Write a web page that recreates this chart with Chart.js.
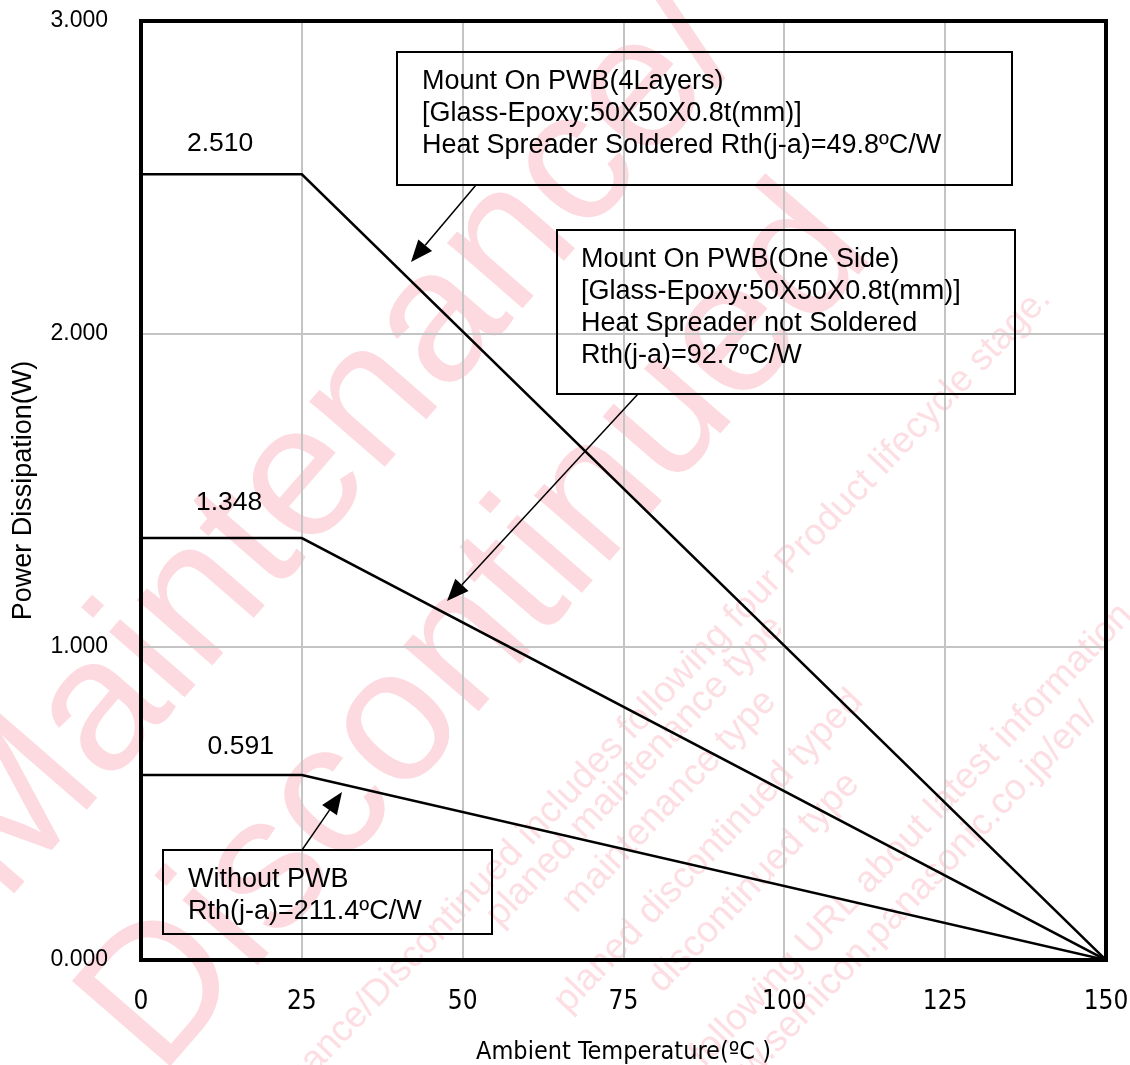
<!DOCTYPE html>
<html>
<head>
<meta charset="utf-8">
<script src="https://cdn.jsdelivr.net/npm/chart.js@4"></script>
<style>
  html, body { margin: 0; padding: 0; background: #fff; }
  #wrap { width: 1130px; height: 1065px; }
</style>
</head>
<body>
<div id="wrap"><canvas id="pdChart" width="1130" height="1065"></canvas></div>
<script>
// ambient temperature (degC) break points of the derating curves
const temps = [0, 25, 150];
// power dissipation (W) for each mounting condition
const pwb4Layers = [2.510, 2.510, 0];
const pwbOneSide = [1.348, 1.348, 0];
const withoutPwb = [0.591, 0.591, 0];
const xTicks = [0, 25, 50, 75, 100, 125, 150];
const yTicks = [0, 1, 2, 3];

const FONT = '"Liberation Sans", Arial, sans-serif';
const NARROW = '"Liberation Sans Narrow", "DejaVu Sans Condensed", "Liberation Sans", Arial, sans-serif';

// value labels above the flat part of each curve
const valueLabels = [
  { text: '2.510', x: 12.3, y: pwb4Layers[0], dy: -31 },
  { text: '1.348', x: 13.7, y: pwbOneSide[0], dy: -35 },
  { text: '0.591', x: 15.5, y: withoutPwb[0], dy: -28 }
];

// note boxes (pixel boxes) with their arrows
const notes = [
  { box: [397, 52, 615, 133], tx: 422, ty: 82,
    lines: ['Mount On PWB(4Layers)', '[Glass-Epoxy:50X50X0.8t(mm)]', 'Heat Spreader Soldered Rth(j-a)=49.8ºC/W'],
    arrow: [476, 185, 411, 262] },
  { box: [557, 230, 458, 164], tx: 581, ty: 260,
    lines: ['Mount On PWB(One Side)', '[Glass-Epoxy:50X50X0.8t(mm)]', 'Heat Spreader not Soldered', 'Rth(j-a)=92.7ºC/W'],
    arrow: [638, 394, 447, 601] },
  { box: [163, 850, 329, 84], tx: 188, ty: 880,
    lines: ['Without PWB', 'Rth(j-a)=211.4ºC/W'],
    arrow: [302, 850, 342, 792] }
];

// pale "discontinued" stamp behind the chart
const stampBig = [
  { text: 'Maintenance/', x: 4, y: 905 },
  { text: 'Discontinued', x: 160, y: 1078 }
];
const stampSmall = [
  { text: 'Maintenance/Discontinued includes following four Product lifecycle stage.', x: 1052, y: 300, align: 'right' },
  { text: 'planed maintenance type', x: 500, y: 928, align: 'left' },
  { text: 'maintenance type', x: 576, y: 914, align: 'left' },
  { text: 'planed discontinued typed', x: 568, y: 1014, align: 'left' },
  { text: 'discontinued type', x: 662, y: 994, align: 'left' },
  { text: 'following URL about latest information.', x: 704, y: 1068, align: 'left' },
  { text: 'http://www.semicon.panasonic.co.jp/en/', x: 1099, y: 716, align: 'right' }
];

const stampPlugin = {
  id: 'stamp',
  beforeDraw(chart) {
    const ctx = chart.ctx;
    ctx.save();
    ctx.fillStyle = '#fcdae0';
    ctx.font = '189px ' + FONT;
    ctx.textBaseline = 'alphabetic';
    stampBig.forEach(s => {
      ctx.save();
      ctx.translate(s.x, s.y);
      ctx.rotate(-49 * Math.PI / 180);
      ctx.fillText(s.text, 0, 0);
      ctx.restore();
    });
    ctx.fillStyle = '#fcdee3';
    ctx.font = '37px ' + FONT;
    stampSmall.forEach(s => {
      ctx.save();
      ctx.translate(s.x, s.y);
      ctx.rotate(-46.4 * Math.PI / 180);
      ctx.textAlign = s.align;
      ctx.fillText(s.text, 0, 0);
      ctx.restore();
    });
    ctx.restore();
  }
};

function drawArrow(ctx, x1, y1, x2, y2) {
  const ang = Math.atan2(y2 - y1, x2 - x1);
  const len = 22, half = 9;
  const bx = x2 - len * Math.cos(ang), by = y2 - len * Math.sin(ang);
  ctx.beginPath();
  ctx.moveTo(x1, y1);
  ctx.lineTo(bx, by);
  ctx.stroke();
  ctx.beginPath();
  ctx.moveTo(x2, y2);
  ctx.lineTo(bx + half * Math.sin(ang), by - half * Math.cos(ang));
  ctx.lineTo(bx - half * Math.sin(ang), by + half * Math.cos(ang));
  ctx.closePath();
  ctx.fill();
}

const notesPlugin = {
  id: 'notes',
  afterDatasetsDraw(chart) {
    const ctx = chart.ctx;
    const { left, top, right, bottom } = chart.chartArea;
    const xs = chart.scales.x, ys = chart.scales.y;
    ctx.save();

    // heavy frame round the plot
    ctx.strokeStyle = '#000';
    ctx.lineWidth = 4;
    ctx.strokeRect(left, top, right - left, bottom - top);

    // value labels
    ctx.fillStyle = '#000';
    ctx.font = '26.5px ' + FONT;
    ctx.textAlign = 'center';
    ctx.textBaseline = 'middle';
    valueLabels.forEach(l => {
      ctx.fillText(l.text, xs.getPixelForValue(l.x), ys.getPixelForValue(l.y) + l.dy);
    });

    // boxes (no fill, the stamp shows through), text and arrows
    ctx.font = '27px ' + FONT;
    ctx.textAlign = 'left';
    notes.forEach(n => {
      ctx.lineWidth = 2;
      ctx.strokeStyle = '#000';
      ctx.strokeRect(n.box[0], n.box[1], n.box[2], n.box[3]);
      ctx.fillStyle = '#000';
      n.lines.forEach((t, i) => ctx.fillText(t, n.tx, n.ty + i * 32));
      ctx.lineWidth = 1.5;
      drawArrow(ctx, ...n.arrow);
    });
    ctx.restore();
  }
};

const lineStyle = {
  borderColor: '#000',
  borderWidth: 2.5,
  pointRadius: 0,
  showLine: true,
  fill: false,
  tension: 0
};

new Chart(document.getElementById('pdChart'), {
  type: 'scatter',
  data: {
    datasets: [
      { label: 'PWB 4 layers', data: temps.map((t, i) => ({ x: t, y: pwb4Layers[i] })), ...lineStyle },
      { label: 'PWB one side', data: temps.map((t, i) => ({ x: t, y: pwbOneSide[i] })), ...lineStyle },
      { label: 'Without PWB', data: temps.map((t, i) => ({ x: t, y: withoutPwb[i] })), ...lineStyle }
    ]
  },
  options: {
    responsive: false,
    animation: false,
    layout: { padding: { top: 21, right: 24, bottom: 0, left: 0 } },
    plugins: {
      legend: { display: false },
      tooltip: { enabled: false }
    },
    scales: {
      x: {
        type: 'linear',
        min: xTicks[0],
        max: xTicks[xTicks.length - 1],
        afterFit: s => { s.height = 105; s.paddingLeft = 0; s.paddingRight = 0; },
        afterBuildTicks: s => { s.ticks = xTicks.map(v => ({ value: v })); },
        grid: { color: '#c4c4c4', lineWidth: 2, drawTicks: false },
        border: { display: false },
        ticks: {
          color: '#000',
          padding: 27,
          maxRotation: 0,
          font: { family: NARROW, size: 26 }
        },
        title: {
          display: true,
          text: 'Ambient Temperature(ºC )',
          color: '#000',
          padding: 0,
          font: { family: NARROW, size: 25, lineHeight: 1.0 }
        }
      },
      y: {
        type: 'linear',
        min: yTicks[0],
        max: yTicks[yTicks.length - 1],
        afterFit: s => { s.width = 141; s.paddingTop = 0; s.paddingBottom = 0; },
        afterBuildTicks: s => { s.ticks = yTicks.map(v => ({ value: v })); },
        grid: { color: '#c4c4c4', lineWidth: 2, drawTicks: false },
        border: { display: false },
        ticks: {
          color: '#000',
          padding: 33,
          callback: v => v.toFixed(3),
          font: { family: FONT, size: 23 }
        },
        title: {
          display: true,
          text: 'Power Dissipation(W)',
          color: '#000',
          padding: { top: 7, bottom: 0 },
          font: { family: FONT, size: 27 }
        }
      }
    }
  },
  plugins: [stampPlugin, notesPlugin]
});
</script>
</body>
</html>
